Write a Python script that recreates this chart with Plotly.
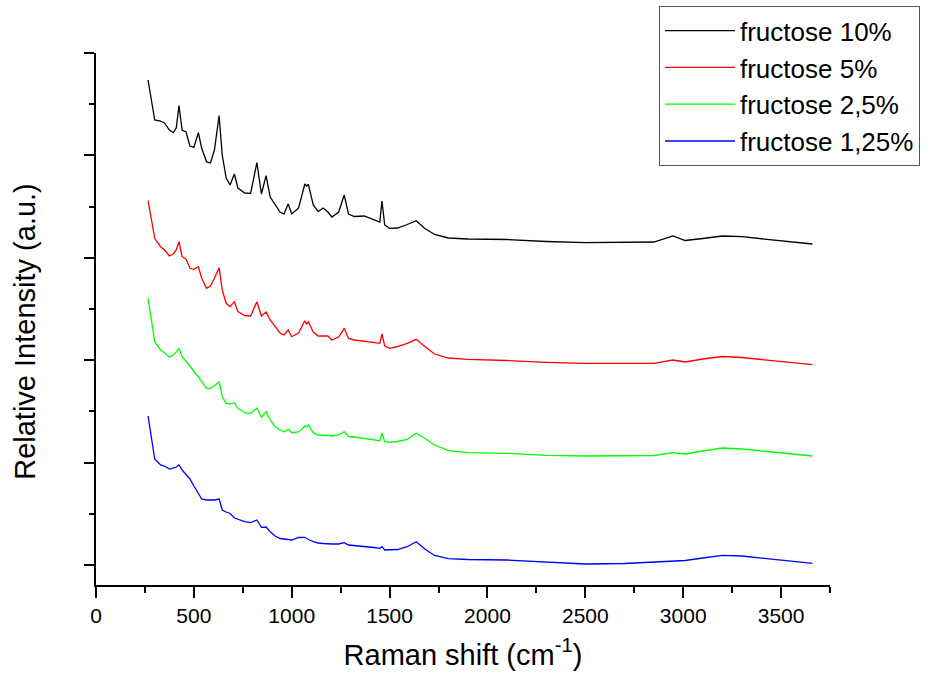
import plotly.graph_objects as go

# Raman shift grid (cm^-1) shared by all four spectra
raman_shift = [
    266, 300, 330, 350, 375, 395, 410, 424, 440, 460, 480, 500, 523, 540, 565, 585,
    605, 629, 645, 665, 685, 707, 725, 760, 790, 822, 845, 869, 890, 915, 940, 960,
    982, 1000, 1035, 1067, 1076, 1085, 1110, 1135, 1160, 1185, 1205, 1240, 1268, 1290,
    1320, 1370, 1420, 1450, 1461, 1475, 1500, 1540, 1590, 1636, 1680, 1730, 1800, 1900,
    2100, 2300, 2500, 2700, 2850, 2948, 3010, 3100, 3200, 3300, 3450, 3600, 3660,
]

# Stacked (offset) relative intensities, arbitrary units
fructose_10 = [
    485, 445, 444, 442, 435, 432.3, 437, 459.3, 435, 433, 419, 417.7, 432.3, 416.7, 403, 402,
    415, 449.3, 410, 387, 380, 391, 377, 372, 371.7, 402.3, 371, 389.3, 368, 361, 353, 351,
    361, 351, 357, 381, 379, 380.7, 360, 353.3, 357, 353, 348, 353, 370, 351,
    348.5, 349, 345.5, 343, 364, 340, 336.7, 337, 340.5, 344.3, 336.5, 330.5, 327, 326,
    325.5, 323.5, 322.3, 322.3, 323, 329, 324.5, 326.5, 329, 328.3, 325.5, 322, 321,
]
fructose_5 = [
    364.3, 326.7, 318.3, 315, 309, 311, 315, 323.3, 308.3, 306, 296.7, 295.7, 298.3, 286.7, 276.7, 279,
    286.7, 297.3, 275, 261.7, 258.3, 263.3, 253.5, 249.5, 249, 263.3, 249, 253, 245, 238.3, 232, 230,
    235, 228.3, 232, 244.3, 241, 243.3, 233, 229, 229, 229, 225, 228, 236.7, 226.5,
    225, 223.5, 222.5, 221.7, 231, 219, 216.7, 218.5, 221.7, 225.7, 218.5, 211, 207, 205.7,
    204.5, 202.7, 201.7, 201.7, 201.7, 205, 203, 206, 208.5, 207.5, 204.5, 201.5, 200.3,
]
fructose_2_5 = [
    266.7, 223.3, 215, 212.3, 207.7, 210, 213, 216.7, 208.3, 204, 199, 193.5, 188.3, 183, 176.7, 176.7,
    179, 183.3, 168.3, 161.7, 161, 162.3, 156.7, 152.3, 151.7, 156.7, 147.7, 153.3, 145, 138.3, 135, 133.3,
    135.7, 132.3, 133, 139, 138.5, 140, 132.3, 130, 130, 129.5, 129, 130, 133.3, 128.5,
    128, 126.7, 125.5, 124.3, 131.7, 123.3, 122.7, 123.5, 125.7, 131.7, 126.5, 120, 114.3, 112.3,
    111.7, 109.7, 109, 109, 109.5, 112.3, 111, 114, 117, 116, 113, 110, 109,
]
fructose_1_25 = [
    149, 106, 100, 99, 96, 97, 98, 100, 95, 90.5, 86, 79, 71, 66, 65, 65,
    65, 66, 55, 53, 51.5, 47, 45.5, 43.3, 42.3, 45, 37.7, 38, 33.3, 29, 26.5, 25.7,
    25.5, 25, 27.5, 27.7, 27, 25.5, 23.3, 22, 21.5, 21, 21, 21, 22.3, 20,
    19.5, 19, 17.5, 16.7, 18.3, 15, 15, 15.5, 18.3, 23.3, 16, 9.5, 6.3, 5.5,
    5, 3, 1, 1.5, 3, 4, 4.5, 7, 9.7, 9, 6, 3, 1.7,
]

series_names = ["fructose 10%", "fructose 5%", "fructose 2,5%", "fructose 1,25%"]
series_values = [fructose_10, fructose_5, fructose_2_5, fructose_1_25]
series_colors = ["#000000", "#ff0000", "#00ff00", "#0000ff"]

x_ticks = [0, 500, 1000, 1500, 2000, 2500, 3000, 3500]

FONT = "Liberation Sans, Arial, sans-serif"

fig = go.Figure()
for name, vals, color in zip(series_names, series_values, series_colors):
    fig.add_trace(go.Scatter(
        x=raman_shift, y=vals, mode="lines", name=name,
        line=dict(color=color, width=1.3),
    ))

fig.update_layout(
    width=942, height=677,
    margin=dict(l=96, r=112, t=53, b=92, autoexpand=False),
    paper_bgcolor="white", plot_bgcolor="white",
    font=dict(family=FONT, color="black"),
    showlegend=True,
    legend=dict(
        x=0.767, y=1.088, xanchor="left", yanchor="top",
        bgcolor="white", bordercolor="#555555", borderwidth=1,
        font=dict(family=FONT, size=26, color="black"),
        itemwidth=70, tracegroupgap=0,
    ),
    # vertical axis title, set slightly below the middle of the axis
    annotations=[dict(
        text="Relative Intensity (a.u.)", textangle=-90,
        xref="paper", yref="paper", x=-0.0967, y=0.476,
        xanchor="center", yanchor="middle", showarrow=False,
        font=dict(family=FONT, size=29, color="black"),
    )],
)

fig.update_xaxes(
    range=[0, 3750], tickvals=x_ticks, ticktext=[str(v) for v in x_ticks],
    showline=True, linecolor="black", linewidth=2, mirror=False,
    showgrid=False, zeroline=False,
    ticks="outside", ticklen=11, tickwidth=1.5, tickcolor="black",
    tickfont=dict(family=FONT, size=21, color="black"),
    minor=dict(tickvals=[250, 750, 1250, 1750, 2250, 2750, 3250, 3750],
               ticks="outside", ticklen=6, tickwidth=1.5, tickcolor="black", showgrid=False),
    title=dict(text="Raman shift (cm<sup>-1</sup>)", font=dict(family=FONT, size=29, color="black"),
               standoff=18),
)

fig.update_yaxes(
    range=[-20, 512], tick0=0, dtick=102.4,
    showline=True, linecolor="black", linewidth=2, mirror=False,
    showgrid=False, zeroline=False, showticklabels=False,
    ticks="outside", ticklen=10, tickwidth=1.5, tickcolor="black",
    minor=dict(tick0=51.2, dtick=102.4, ticks="outside", ticklen=5, tickwidth=1.5,
               tickcolor="black", showgrid=False),
)

fig.write_html("out.html")
